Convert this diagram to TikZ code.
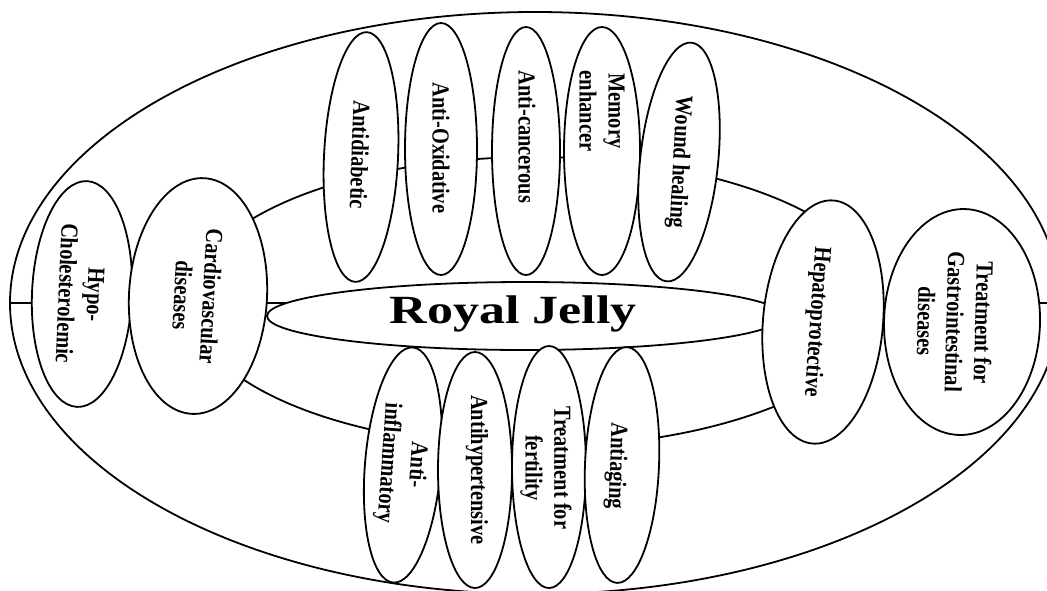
\documentclass[tikz,border=0pt]{standalone}
\usepackage{fontspec}
\usepackage{graphicx}
\setmainfont{Liberation Serif}
\usetikzlibrary{shapes.geometric}
\tikzset{
  oval/.style={draw=black, ellipse, inner sep=0pt, outer sep=0pt},
  bubble/.style={oval, fill=white},
  lbl/.style={rotate=#1, yscale=1.2, align=center, inner sep=0pt,
              font=\fontsize{10.2}{12}\selectfont\bfseries},
  title/.style={inner sep=0pt, font=\fontsize{20}{24}\selectfont\bfseries},
}
\begin{document}
\begin{tikzpicture}[x=0.5pt, y=-0.5pt, line width=0.9pt]
\useasboundingbox (0,0) rectangle (1047,590);
\clip (0,0) rectangle (1047,590);

% outer frame and its horizontal axis
\node[oval, minimum width=525pt, minimum height=291pt] (outer) at (535,303) {};
\draw (outer.west) -- (outer.east);

% ring joining the inner bubbles
\node[oval, minimum width=345pt, minimum height=145pt] (ring) at (535,302) {};

% central ellipse
\node[bubble, minimum width=258pt, minimum height=34pt] (rj) at (525,316) {};
\node[title] (rj-t) at (513,314) {\scalebox{1.3}[1]{Royal Jelly}};

% left side
\node[bubble, rotate=-92.5, minimum width=113pt, minimum height=50pt] (hypo) at (82,294) {};
\node[lbl=-92.5] (hypo-t) at (81,294) {Hypo-\\Cholesterolemic};
\node[bubble, rotate=-93, minimum width=118pt, minimum height=69pt] (cardio) at (198,296) {};
\node[lbl=-93] (cardio-t) at (197,296) {Cardiovascular\\diseases};

% upper row
\node[bubble, rotate=-92.7, minimum width=125pt, minimum height=37pt] (antidiab) at (361,157) {};
\node[lbl=-92] (antidiab-t) at (360,155) {Antidiabetic};
\node[bubble, rotate=-90, minimum width=126pt, minimum height=36pt] (antiox) at (441,149) {};
\node[lbl=-90] (antiox-t) at (441,148) {Anti-Oxidative};
\node[bubble, rotate=-90, minimum width=124pt, minimum height=34pt] (anticanc) at (526,151) {};
\node[lbl=-90] (anticanc-t) at (527,137) {Anti-cancerous};
\node[bubble, rotate=-90, minimum width=124pt, minimum height=38pt] (memory) at (602,151) {};
\node[lbl=-90] (memory-t) at (602,111) {Memory\\enhancer};
\node[bubble, rotate=-96, minimum width=120pt, minimum height=39pt] (wound) at (679,162) {};
\node[lbl=-93] (wound-t) at (679,162) {Wound healing};

% lower row
\node[bubble, rotate=-94.8, minimum width=118pt, minimum height=38pt] (antiinfl) at (403,465) {};
\node[lbl=-94] (antiinfl-t) at (402,464) {Anti-\\inflammatory};
\node[bubble, rotate=-90, minimum width=118pt, minimum height=37pt] (antihyp) at (475,470) {};
\node[lbl=-90] (antihyp-t) at (477,470) {Antihypertensive};
\node[bubble, rotate=-90, minimum width=121pt, minimum height=37pt] (fert) at (549,467) {};
\node[lbl=-90] (fert-t) at (546,468) {Treatment for\\fertility};
\node[bubble, rotate=-92.4, minimum width=118pt, minimum height=37pt] (aging) at (622,465) {};
\node[lbl=-92] (aging-t) at (616,466) {Antiaging};

% right side
\node[bubble, rotate=-95, minimum width=122pt, minimum height=60pt] (hepato) at (823,322) {};
\node[lbl=-94] (hepato-t) at (816,322) {Hepatoprotective};
\node[bubble, rotate=-91.5, minimum width=113pt, minimum height=78pt] (gastro) at (962,322) {};
\node[lbl=-91.5] (gastro-t) at (955,322) {Treatment for\\Gastrointestinal\\diseases};
\end{tikzpicture}
\end{document}
